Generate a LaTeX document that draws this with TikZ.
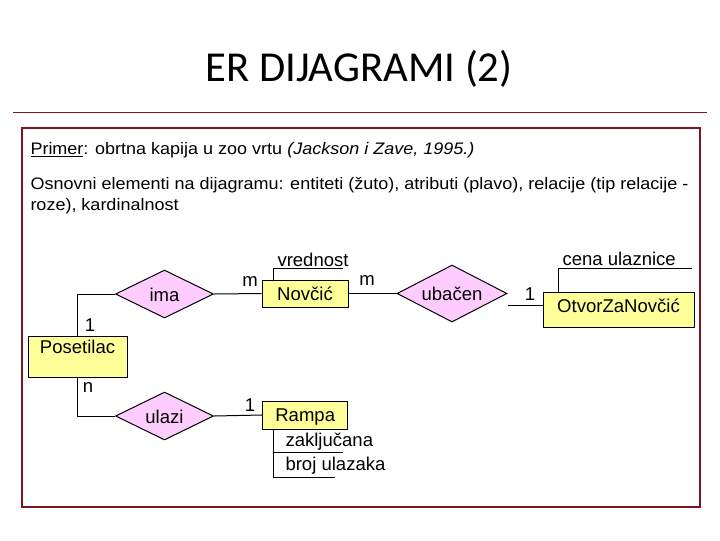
\documentclass[tikz,border=0pt]{standalone}
\usepackage{fontspec}
\setmainfont{Liberation Sans}
\newfontfamily\naslovfont{Carlito}
\newfontfamily\tekstfam[FakeStretch=1.08]{Liberation Sans}
\usetikzlibrary{shapes.geometric}
\usetikzlibrary{calc}
\definecolor{okvir}{RGB}{128,20,32}
\definecolor{zuta}{RGB}{255,255,153}
\definecolor{roze}{RGB}{255,204,255}
\newcommand{\dijfont}{\fontsize{13.9}{16}\selectfont}
\newcommand{\tekstfont}{\tekstfam\fontsize{12.5}{15}\selectfont}
\tikzset{every picture/.style={line width=0.75pt}}
\tikzset{
  entitet/.style={draw, fill=zuta, inner xsep=0pt, inner ysep=0pt, text height=10pt, text depth=0pt, font=\dijfont},
  relacija/.style={draw, diamond, aspect=2, fill=roze, inner sep=0pt, text height=10.5pt, text depth=0pt, font=\dijfont},
  oznaka/.style={inner sep=0pt, font=\dijfont},
  atribut/.style={inner sep=0pt, anchor=base west, font=\dijfont},
  tekst/.style={inner sep=0pt, anchor=base west, font=\tekstfont},
}

\begin{document}
\begin{tikzpicture}[x=0.75pt,y=0.75pt,yscale=-1,xscale=1]
\useasboundingbox (0,0) rectangle (720,540);

% Title
\node [anchor=base, inner sep=0pt, font=\naslovfont\fontsize{32}{38}\selectfont] (naslov) at (359,81) {ER DIJAGRAMI (2)};
%Straight Lines
\draw [okvir, line width=0.6pt] (13,112) -- (707,112) ;
%Shape: Rectangle
\draw [okvir, line width=1.1pt] (22,128) rectangle (700,507) ;

% Text Node
\node [tekst] (primer) at (30,154.3) {\underline{Primer}: obrtna kapija u zoo vrtu \textit{(Jackson i Zave, 1995.)}};
% Text Node
\node [tekst] (osnovni) at (30,189.3) {Osnovni elementi na dijagramu: entiteti (žuto), atributi (plavo), relacije (tip relacije -};
% Text Node
\node [tekst] (roze) at (30,210) {roze), kardinalnost};

% Entities
\node [entitet, minimum width=74.25pt, minimum height=30.75pt, inner ysep=3pt, text height=10.2pt, text depth=14.55pt] (posetilac) at (77.5,356.5) {Posetilac};
\node [entitet, minimum width=64.5pt, minimum height=20.25pt] (novcic) at (305,293.5) {Novčić};
\node [entitet, minimum width=63.75pt, minimum height=21pt] (rampa) at (305.2,415) {Rampa};
\node [entitet, minimum width=113.25pt, minimum height=26.25pt, inner ysep=3pt, text height=12.3pt, text depth=7.95pt] (otvor) at (618.5,309.5) {OtvorZaNovčić};

% Relations
\node [relacija, minimum width=73.5pt, minimum height=36pt] (ima) at (164.5,294) {ima};
\node [relacija, minimum width=73.5pt, minimum height=36pt] (ulazi) at (164.5,416) {ulazi};
\node [relacija, minimum width=82.5pt, minimum height=42.75pt] (ubacen) at (452,293.5) {ubačen};

% Connectors
\draw (posetilac.north) |- (ima.west) ;
\draw (ima.east) -- (novcic.west) ;
\draw (novcic.east) -- (ubacen.west) ;
\coordinate (ubacenIzlaz) at (508,305) ;
\draw (ubacenIzlaz) -- (ubacenIzlaz -| otvor.west) ;
\draw (posetilac.south) |- (ulazi.west) ;
\draw (ulazi.east) -- (rampa.west) ;

% Cardinalities
\node [oznaka] (k1) at (90,325) {1};
\node [oznaka] (k2) at (88,388) {n};
\node [oznaka] (k3) at (250,282) {m};
\node [oznaka] (k4) at (367,281) {m};
\node [oznaka] (k5) at (250,405) {1};
\node [oznaka] (k6) at (530,294) {1};

% Attributes
\node [atribut] (vrednost) at (277,266) {vrednost};
\coordinate (vrednostKraj) at (343,268) ;
\draw (novcic.north west) ++(12,0) |- (vrednostKraj) ;

\node [atribut] (cena) at (562,265) {cena ulaznice};
\coordinate (cenaKraj) at (692,268) ;
\draw (otvor.north west) ++(16,0) |- (cenaKraj) ;

\node [atribut] (zakljucana) at (285,446) {zaključana};
\node [atribut] (broj) at (285,470.7) {broj ulazaka};
\coordinate (rampaAtr) at ($(rampa.south west)+(11,0)$) ;
\coordinate (zakljucanaKraj) at (343,452) ;
\coordinate (brojKraj) at (335,477) ;
\draw (rampaAtr) |- (brojKraj) ;
\draw (rampaAtr |- zakljucanaKraj) -- (zakljucanaKraj) ;
\end{tikzpicture}
\end{document}
